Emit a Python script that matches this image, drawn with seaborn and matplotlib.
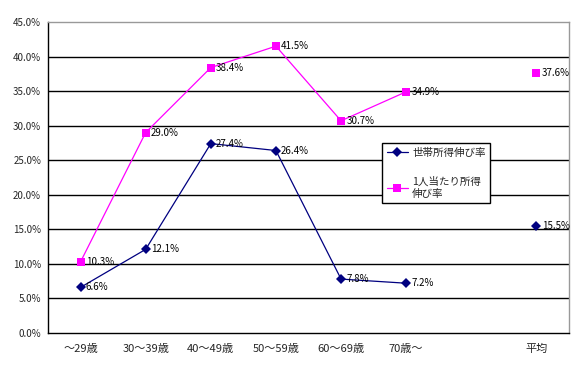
import numpy as np
import pandas as pd
import matplotlib
matplotlib.use("Agg")
import matplotlib.pyplot as plt
import seaborn as sns

# data
categories = ["～29歳", "30～39歳", "40～49歳", "50～59歳", "60～69歳", "70歳～", "", "平均"]
household = [6.6, 12.1, 27.4, 26.4, 7.8, 7.2, np.nan, 15.5]
per_person = [10.3, 29.0, 38.4, 41.5, 30.7, 34.9, np.nan, 37.6]
series_names = ["世帯所得伸び率", "1人当たり所得\n伸び率"]
y_ticks = [0, 5, 10, 15, 20, 25, 30, 35, 40, 45]

sns.set_style("white")
plt.rcParams['font.family'] = ['Noto Sans CJK JP', 'DejaVu Sans']

rows = []
for name, vals in zip(series_names, [household, per_person]):
    for i, v in enumerate(vals):
        if np.isnan(v):
            continue
        seg = 0 if i < 6 else 1
        rows.append({"x": i, "y": v, "series": name, "seg": seg})
df = pd.DataFrame(rows)

fig = plt.figure(figsize=(5.83, 3.66), dpi=100)
ax = fig.add_axes([0.0823, 0.0902, 0.8937, 0.8498])

palette = {series_names[0]: "#000080", series_names[1]: "#FF00FF"}
markers = {series_names[0]: "D", series_names[1]: "s"}
sns.lineplot(data=df, x="x", y="y", hue="series", style="series", units="seg",
             estimator=None, palette=palette, markers=markers, dashes=False,
             markersize=5.2, markeredgewidth=0, linewidth=0.9, ax=ax, sort=False)

# value labels
for vals in [household, per_person]:
    for i, v in enumerate(vals):
        if np.isnan(v):
            continue
        ax.text(i + 0.08, v, f"{v:.1f}%", fontsize=7, va="center", ha="left",
                color="black")

ax.set_xlim(-0.5, 7.5)
ax.set_ylim(0, 45)
ax.set_yticks(y_ticks)
ax.set_yticklabels([f"{t:.1f}%" for t in y_ticks], fontsize=7)
ax.set_xticks(range(len(categories)))
ax.set_xticklabels(categories, fontsize=8)
ax.set_xticks(np.arange(-0.5, 8, 1), minor=True)
ax.tick_params(axis="x", which="major", length=0, pad=8)
ax.tick_params(axis="x", which="minor", length=4, width=0.8, color="black", direction="out")
ax.tick_params(axis="y", length=3, width=0.8, color="black", direction="out", pad=2)
ax.set_xlabel("")
ax.set_ylabel("")

for t in y_ticks[1:-1]:
    ax.axhline(t, color="black", lw=1, zorder=0)

ax.spines["left"].set_color("black")
ax.spines["bottom"].set_color("black")
ax.spines["top"].set_color("#999999")
ax.spines["right"].set_color("#999999")
for s in ax.spines.values():
    s.set_linewidth(1)

leg = ax.legend(loc="upper left", bbox_to_anchor=(0.641, 0.611), fontsize=7.6,
                frameon=True, fancybox=False, borderpad=0.45, labelspacing=1.8,
                handlelength=2.0, handletextpad=0.4, borderaxespad=0)
leg.get_frame().set_edgecolor("black")
leg.get_frame().set_linewidth(1)
leg.get_frame().set_alpha(1)

fig.savefig("out.png", dpi=100)
